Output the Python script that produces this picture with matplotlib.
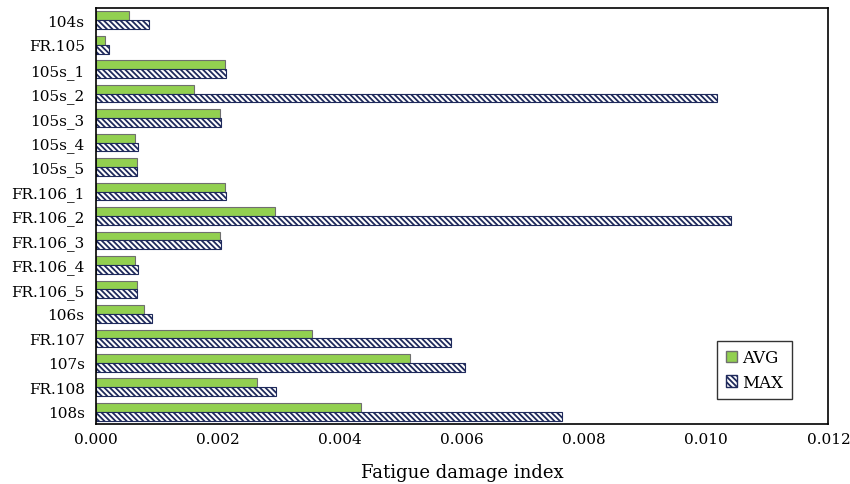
import matplotlib.pyplot as plt
import numpy as np
from matplotlib.patches import Patch

# --- data ---
categories = ['104s', 'FR.105', '105s_1', '105s_2', '105s_3', '105s_4', '105s_5',
              'FR.106_1', 'FR.106_2', 'FR.106_3', 'FR.106_4', 'FR.106_5',
              '106s', 'FR.107', '107s', 'FR.108', '108s']
avg_vals = [0.00055, 0.00016, 0.00212, 0.00161, 0.00204, 0.00064, 0.00067,
            0.00212, 0.00294, 0.00204, 0.00064, 0.00067,
            0.00079, 0.00355, 0.00514, 0.00264, 0.00435]
max_vals = [0.00088, 0.00022, 0.00213, 0.01017, 0.00206, 0.00069, 0.00068,
            0.00213, 0.01040, 0.00206, 0.00070, 0.00068,
            0.00093, 0.00582, 0.00604, 0.00295, 0.00764]
xticks = [0.000, 0.002, 0.004, 0.006, 0.008, 0.010, 0.012]

plt.rcParams['font.family'] = ['DejaVu Serif']
plt.rcParams['hatch.linewidth'] = 1.3

fig = plt.figure(figsize=(8.5, 4.85), dpi=100)
ax = fig.add_axes([0.1126, 0.1237, 0.862, 0.8577])

y = np.arange(len(categories))
h = 0.36
ax.barh(y - h / 2, avg_vals, height=h, color='#92D050', edgecolor='#6f6f6f', linewidth=0.8, label='AVG')
ax.barh(y + h / 2, max_vals, height=h, color='white', edgecolor='#1f2a5c', hatch='\\\\\\\\\\\\',
        linewidth=0.8, label='MAX')

ax.set_ylim(len(categories) - 0.5, -0.5)
ax.set_xlim(0, 0.012)
ax.set_yticks(y)
ax.set_yticklabels(categories, fontsize=11)
ax.set_xticks(xticks)
ax.set_xticklabels([f'{v:.3f}' for v in xticks], fontsize=11)
ax.tick_params(length=0, pad=8)
ax.tick_params(axis='x', pad=6)
for s in ax.spines.values():
    s.set_linewidth(1.2)

ax.set_xlabel('Fatigue damage index', fontsize=13, labelpad=12)

handles = [Patch(facecolor='#92D050', edgecolor='#6f6f6f', label='AVG'),
           Patch(facecolor='white', edgecolor='#1f2a5c', hatch='\\\\\\\\\\\\', label='MAX')]
leg = ax.legend(handles=handles, loc='lower right', bbox_to_anchor=(0.950, 0.060),
                borderaxespad=0, fontsize=12, frameon=True, fancybox=False, edgecolor='black',
                handlelength=0.7, handleheight=0.7, handletextpad=0.3,
                labelspacing=0.45, borderpad=0.5)
leg.get_frame().set_linewidth(1.0)

fig.savefig('out.png', dpi=100)
